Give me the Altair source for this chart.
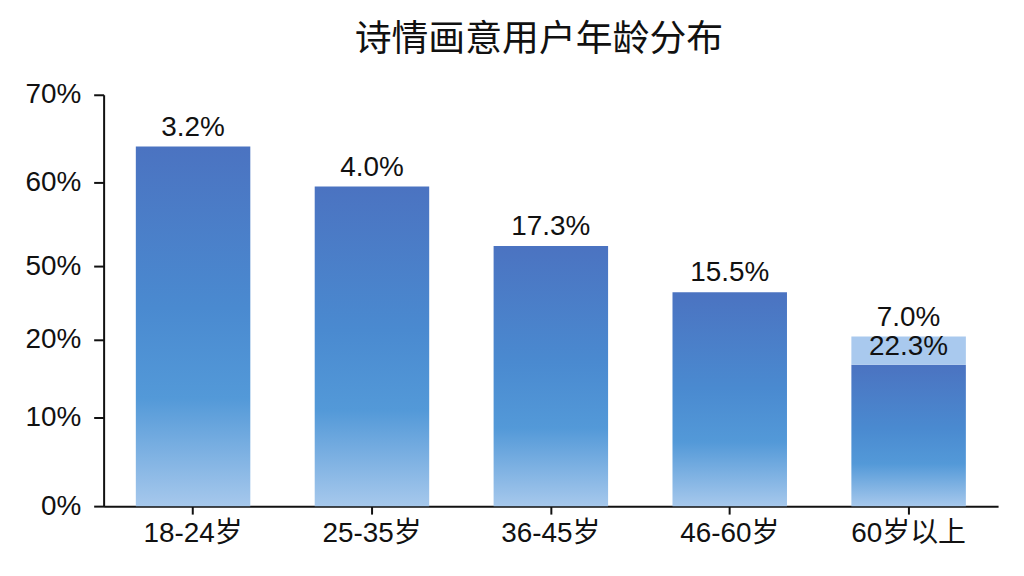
import altair as alt
import pandas as pd

categories = ["18-24岁", "25-35岁", "36-45岁", "46-60岁", "60岁以上"]
bar_values = [64.1, 59.5, 52.4, 39.3, 16.8]
top_values = [64.1, 59.5, 52.4, 39.3, 21.3]
top_labels = ["3.2%", "4.0%", "17.3%", "15.5%", "7.0%"]

extra_category = ["60岁以上"]
extra_start = [16.8]
extra_end = [21.3]
extra_label = ["22.3%"]

tick_values = [0, 10, 20, 50, 60, 70]
tick_pixels = [413, 324, 246, 172, 88, 0]

FONT = "Liberation Sans, Noto Sans CJK SC, sans-serif"
FS = 28

df = pd.DataFrame({"cat": categories, "value": bar_values, "top": top_values, "label": top_labels})
df2 = pd.DataFrame({"cat": extra_category, "start": extra_start, "end": extra_end, "label": extra_label})

x = alt.X("cat:N", sort=categories, title=None,
          scale=alt.Scale(paddingInner=0.36, paddingOuter=0.18),
          axis=alt.Axis(labelAngle=0, labelFontSize=FS, labelFont=FONT, labelColor="#111",
                        tickSize=8, tickColor="#111", tickWidth=2,
                        domainColor="#111", domainWidth=2, labelPadding=6))
yscale = alt.Scale(domain=tick_values, range=tick_pixels, nice=False, zero=False)

grad = alt.Gradient(gradient="linear", x1=0, x2=0, y1=0, y2=1,
                    stops=[alt.GradientStop(color="#4b73c1", offset=0),
                           alt.GradientStop(color="#4a8ad0", offset=0.45),
                           alt.GradientStop(color="#5399d8", offset=0.7),
                           alt.GradientStop(color="#a6c8ec", offset=1)])

bars = alt.Chart(df).mark_bar(color=grad).encode(
    x=x,
    y=alt.Y("value:Q", scale=yscale, title=None,
            axis=alt.Axis(values=tick_values, labelExpr="datum.value + '%'", grid=False,
                          labelFontSize=FS, labelFont=FONT, labelColor="#111",
                          tickSize=10, tickColor="#111", tickWidth=2,
                          domainColor="#111", domainWidth=2, labelPadding=13)),
)

extra = alt.Chart(df2).mark_bar(color="#a9c9ee").encode(
    x=alt.X("cat:N", sort=categories),
    y=alt.Y("start:Q", scale=yscale),
    y2="end:Q",
)

labels = alt.Chart(df).mark_text(fontSize=FS, font=FONT, color="#111", baseline="alphabetic", dy=-11).encode(
    x=alt.X("cat:N", sort=categories),
    y=alt.Y("top:Q", scale=yscale),
    text="label:N",
)

inner = alt.Chart(df2).mark_text(fontSize=FS, font=FONT, color="#111", baseline="alphabetic", dy=18).encode(
    x=alt.X("cat:N", sort=categories),
    y=alt.Y("end:Q", scale=yscale),
    text="label:N",
)

chart = alt.layer(bars, extra, labels, inner).properties(
    width=898, height=413,
    title=alt.TitleParams("诗情画意用户年龄分布", fontSize=37, font="Noto Sans CJK SC",
                          fontWeight="normal", color="#111", anchor="middle", frame="group",
                          dx=-12, offset=22),
    autosize=alt.AutoSizeParams(type="none"),
    padding={"left": 96, "top": 86, "right": 18, "bottom": 60},
).configure(background="white").configure_view(stroke=None)

chart.save("out.html", embed_options={"renderer": "svg", "actions": False})
